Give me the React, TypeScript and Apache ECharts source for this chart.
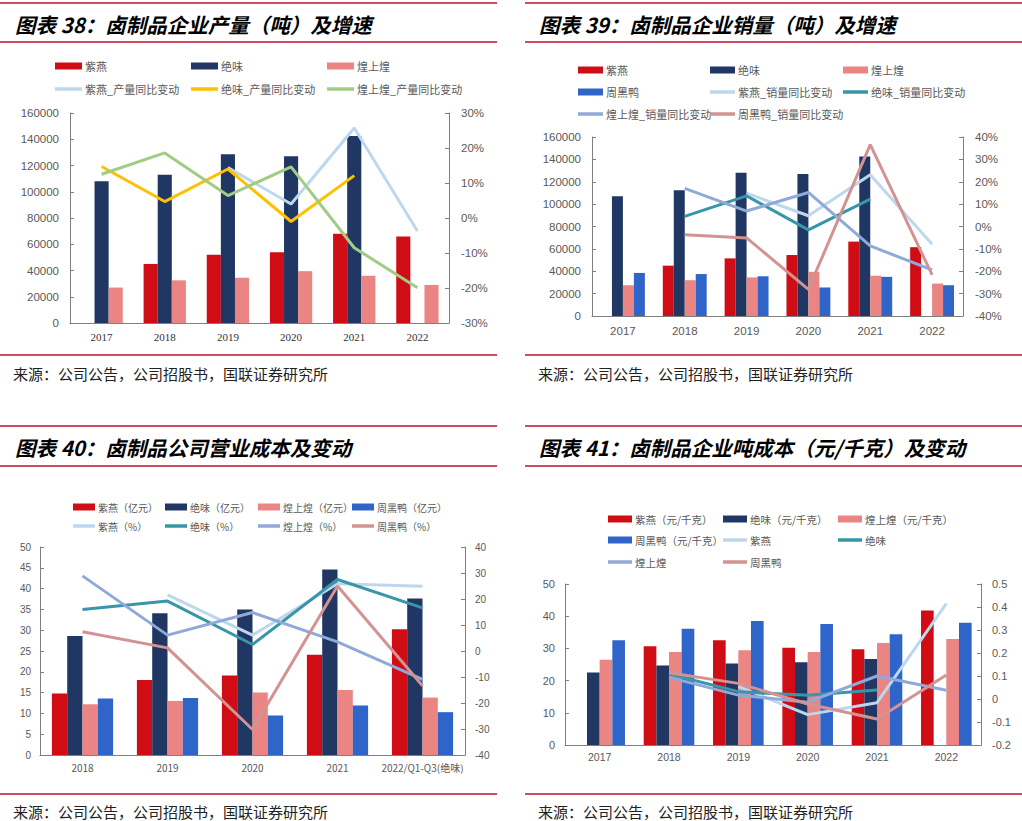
import React, { useEffect, useRef } from "react";
import * as echarts from "echarts";

// ---------- colours ----------
const C_RED = "#D00C14";
const C_NAVY = "#203764";
const C_PINK = "#EA8583";
const C_BLUE = "#2F65C9";
const C_LBLUE = "#BDD7EE";
const C_YELLOW = "#FFC000";
const C_GREEN = "#A0CC84";
const C_TEAL = "#3796A8";
const C_GBLUE = "#8FA9D9";
const C_ROSE = "#D39392";

// ---------- panel 1: 产量 ----------
const p1Years = ["2017", "2018", "2019", "2020", "2021", "2022"];
const p1Zy = [null, 45000, 52000, 54000, 68000, 66000];
const p1Jw = [108000, 113000, 128500, 127000, 142500, null];
const p1Hs = [27000, 32500, 34500, 39500, 36000, 29000];
const p1ZyPct = [null, null, 14.4, 4.0, 25.7, -3.7];
const p1JwPct = [14.7, 4.7, 14.0, -1.0, 12.1, null];
const p1HsPct = [12.5, 18.6, 6.4, 14.6, -8.5, -19.9];

// ---------- panel 2: 销量 ----------
const p2Years = ["2017", "2018", "2019", "2020", "2021", "2022"];
const p2Zy = [null, 45000, 51500, 54500, 66500, 61500];
const p2Jw = [107000, 112500, 128000, 127000, 142500, null];
const p2Hs = [27500, 32000, 34500, 39500, 36000, 29000];
const p2Zh = [38500, 37500, 35500, 25500, 35000, 27500];
const p2ZyPct = [null, null, 14.9, 4.8, 23.1, -7.9];
const p2JwPct = [null, 4.5, 13.7, -1.5, 12.2, null];
const p2HsPct = [null, 17.0, 6.9, 15.2, -8.7, -19.4];
const p2ZhPct = [null, -3.7, -5.1, -28.1, 36.6, -21.6];

// ---------- panel 3: 营业成本 ----------
const p3Years = ["2018", "2019", "2020", "2021", "2022/Q1-Q3(绝味)"];
const p3Zy = [14.8, 18.0, 19.1, 24.1, 30.2];
const p3Jw = [28.6, 34.1, 35.0, 44.6, 37.6];
const p3Hs = [12.2, 13.0, 15.0, 15.6, 13.8];
const p3Zh = [13.6, 13.7, 9.5, 11.9, 10.3];
const p3ZyPct = [null, 21.6, 6.1, 25.9, 24.9];
const p3JwPct = [16.0, 19.2, 2.5, 27.5, 16.6];
const p3HsPct = [28.9, 6.1, 14.8, 3.5, -10.9];
const p3ZhPct = [7.4, 1.2, -30.2, 25.0, -13.4];

// ---------- panel 4: 吨成本 ----------
const p4Years = ["2017", "2018", "2019", "2020", "2021", "2022"];
const p4Zy = [null, 30.7, 32.5, 30.2, 29.7, 41.8];
const p4Jw = [22.5, 24.7, 25.3, 25.7, 26.7, null];
const p4Hs = [26.5, 28.9, 29.4, 28.9, 31.7, 32.9];
const p4Zh = [32.5, 36.1, 38.5, 37.6, 34.4, 38.0];
const p4ZyChg = [null, null, 0.054, -0.068, -0.016, 0.415];
const p4JwChg = [null, 0.109, 0.032, 0.016, 0.039, null];
const p4HsChg = [null, 0.094, 0.017, -0.014, 0.1, 0.038];
const p4ZhChg = [null, 0.114, 0.068, -0.022, -0.087, 0.104];

// ---------- texts ----------
const titles = [
  "图表 38：卤制品企业产量（吨）及增速",
  "图表 39：卤制品企业销量（吨）及增速",
  "图表 40：卤制品公司营业成本及变动",
  "图表 41：卤制品企业吨成本（元/千克）及变动",
];
const sourceText = "来源：公司公告，公司招股书，国联证券研究所";

const SANS = "'Liberation Sans', 'Noto Sans CJK SC', sans-serif";
const CJK = "'Noto Sans CJK SC', 'Liberation Sans', sans-serif";
const LABEL_COLOR = "#595959";
const AXIS_COLOR = "#7F7F7F";

function buildOption() {
  const grids = [
    { left: 70, top: 113, width: 379, height: 210 },
    { left: 592, top: 137, width: 371, height: 179 },
    { left: 40, top: 547, width: 425, height: 208 },
    { left: 565, top: 584, width: 416, height: 161 },
  ];

  const xAxes = [
    { cats: p1Years, fs: 11, ff: "'Liberation Serif', serif", margin: 8, color: "#333" },
    { cats: p2Years, fs: 11.5, ff: SANS, margin: 9, color: LABEL_COLOR },
    { cats: p3Years, fs: 10, ff: CJK, margin: 7, color: LABEL_COLOR },
    { cats: p4Years, fs: 10.5, ff: SANS, margin: 7, color: LABEL_COLOR },
  ].map((a, i) => ({
    type: "category",
    gridIndex: i,
    data: a.cats,
    axisLine: { show: true, lineStyle: { color: AXIS_COLOR, width: 1.2 } },
    axisTick: { show: false },
    axisLabel: { fontSize: a.fs, fontFamily: a.ff, color: a.color, margin: a.margin, interval: 0 },
    splitLine: { show: false },
  }));

  const plain = (v: number) => String(v);
  const valAxis = (grid: number, pos: string, min: number, max: number, interval: number, fs: number, margin: number, formatter: any) => ({
    type: "value",
    gridIndex: grid,
    position: pos,
    min,
    max,
    interval,
    axisLine: { show: true, lineStyle: { color: AXIS_COLOR, width: 1 } },
    axisTick: { show: true, inside: true, length: 4, lineStyle: { color: AXIS_COLOR } },
    splitLine: { show: false },
    axisLabel: { fontSize: fs, fontFamily: SANS, color: LABEL_COLOR, margin, formatter },
  });

  const yAxes = [
    valAxis(0, "left", 0, 160000, 20000, 11.5, 11, plain),
    valAxis(0, "right", -30, 30, 10, 11.5, 12, (v: number) => v + "%"),
    valAxis(1, "left", 0, 160000, 20000, 11.5, 11, plain),
    valAxis(1, "right", -40, 40, 10, 11.5, 12, (v: number) => v + "%"),
    valAxis(2, "left", 0, 50, 5, 10, 9, plain),
    valAxis(2, "right", -40, 40, 10, 10, 10, plain),
    valAxis(3, "left", 0, 50, 10, 11, 10, plain),
    valAxis(3, "right", -0.2, 0.5, 0.1, 11, 11, (v: number) => String(Math.round(v * 10) / 10)),
  ];

  const bar = (p: number, name: string, data: any[], color: string, gap: string) => ({
    type: "bar",
    name: `p${p}|${name}`,
    xAxisIndex: p - 1,
    yAxisIndex: (p - 1) * 2,
    data,
    barGap: "0%",
    barCategoryGap: gap,
    itemStyle: { color },
    z: 2,
  });
  const line = (p: number, name: string, data: any[], color: string) => ({
    type: "line",
    name: `p${p}|${name}`,
    xAxisIndex: p - 1,
    yAxisIndex: (p - 1) * 2 + 1,
    data,
    symbol: "none",
    connectNulls: false,
    lineStyle: { color, width: 3 },
    itemStyle: { color },
    z: 3,
  });

  const series = [
    bar(1, "紫燕", p1Zy, C_RED, "33%"),
    bar(1, "绝味", p1Jw, C_NAVY, "33%"),
    bar(1, "煌上煌", p1Hs, C_PINK, "33%"),
    line(1, "紫燕_产量同比变动", p1ZyPct, C_LBLUE),
    line(1, "绝味_产量同比变动", p1JwPct, C_YELLOW),
    line(1, "煌上煌_产量同比变动", p1HsPct, C_GREEN),

    bar(2, "紫燕", p2Zy, C_RED, "29%"),
    bar(2, "绝味", p2Jw, C_NAVY, "29%"),
    bar(2, "煌上煌", p2Hs, C_PINK, "29%"),
    bar(2, "周黑鸭", p2Zh, C_BLUE, "29%"),
    line(2, "紫燕_销量同比变动", p2ZyPct, C_LBLUE),
    line(2, "绝味_销量同比变动", p2JwPct, C_TEAL),
    line(2, "煌上煌_销量同比变动", p2HsPct, C_GBLUE),
    line(2, "周黑鸭_销量同比变动", p2ZhPct, C_ROSE),

    bar(3, "紫燕（亿元）", p3Zy, C_RED, "28%"),
    bar(3, "绝味（亿元）", p3Jw, C_NAVY, "28%"),
    bar(3, "煌上煌（亿元）", p3Hs, C_PINK, "28%"),
    bar(3, "周黑鸭（亿元）", p3Zh, C_BLUE, "28%"),
    line(3, "紫燕（%）", p3ZyPct, C_LBLUE),
    line(3, "绝味（%）", p3JwPct, C_TEAL),
    line(3, "煌上煌（%）", p3HsPct, C_GBLUE),
    line(3, "周黑鸭（%）", p3ZhPct, C_ROSE),

    bar(4, "紫燕（元/千克）", p4Zy, C_RED, "27%"),
    bar(4, "绝味（元/千克）", p4Jw, C_NAVY, "27%"),
    bar(4, "煌上煌（元/千克）", p4Hs, C_PINK, "27%"),
    bar(4, "周黑鸭（元/千克）", p4Zh, C_BLUE, "27%"),
    line(4, "紫燕", p4ZyChg, C_LBLUE),
    line(4, "绝味", p4JwChg, C_TEAL),
    line(4, "煌上煌", p4HsChg, C_GBLUE),
    line(4, "周黑鸭", p4ZhChg, C_ROSE),
  ];

  // legend layout: [panel, name, isLine, x, yCenter, iconWidth, fontSize]
  const legendItems: [number, string, boolean, number, number, number, number][] = [
    [1, "紫燕", false, 55, 66, 27, 11],
    [1, "绝味", false, 191, 66, 27, 11],
    [1, "煌上煌", false, 327, 66, 27, 11],
    [1, "紫燕_产量同比变动", true, 55, 89, 27, 11],
    [1, "绝味_产量同比变动", true, 191, 89, 27, 11],
    [1, "煌上煌_产量同比变动", true, 327, 89, 27, 11],

    [2, "紫燕", false, 578, 70, 25, 11],
    [2, "绝味", false, 710, 70, 25, 11],
    [2, "煌上煌", false, 843, 70, 25, 11],
    [2, "周黑鸭", false, 578, 92, 25, 11],
    [2, "紫燕_销量同比变动", true, 710, 92, 25, 11],
    [2, "绝味_销量同比变动", true, 843, 92, 25, 11],
    [2, "煌上煌_销量同比变动", true, 578, 114, 25, 11],
    [2, "周黑鸭_销量同比变动", true, 710, 114, 25, 11],

    [3, "紫燕（亿元）", false, 73, 507, 22, 10],
    [3, "绝味（亿元）", false, 165, 507, 22, 10],
    [3, "煌上煌（亿元）", false, 258, 507, 22, 10],
    [3, "周黑鸭（亿元）", false, 352, 507, 22, 10],
    [3, "紫燕（%）", true, 73, 526, 22, 10],
    [3, "绝味（%）", true, 165, 526, 22, 10],
    [3, "煌上煌（%）", true, 258, 526, 22, 10],
    [3, "周黑鸭（%）", true, 352, 526, 22, 10],

    [4, "紫燕（元/千克）", false, 608, 519, 24, 10.5],
    [4, "绝味（元/千克）", false, 723, 519, 24, 10.5],
    [4, "煌上煌（元/千克）", false, 838, 519, 24, 10.5],
    [4, "周黑鸭（元/千克）", false, 608, 540, 24, 10.5],
    [4, "紫燕", true, 723, 540, 24, 10.5],
    [4, "绝味", true, 838, 540, 24, 10.5],
    [4, "煌上煌", true, 608, 562, 24, 10.5],
    [4, "周黑鸭", true, 723, 562, 24, 10.5],
  ];

  const legends = legendItems.map(([p, name, isLine, x, y, w, fs]) => ({
    show: true,
    orient: "horizontal",
    left: x,
    top: y - 8,
    padding: 0,
    itemGap: 0,
    itemWidth: w,
    itemHeight: isLine ? 3.5 : 7,
    selectedMode: false,
    data: [{ name: `p${p}|${name}`, icon: "rect" }],
    formatter: (n: string) => n.split("|")[1],
    textStyle: { fontSize: fs, fontFamily: CJK, color: LABEL_COLOR, lineHeight: 16, padding: [0, 0, 0, -2] },
  }));

  // decorations: rule lines, titles, sources
  const RULE = "#C0102E";
  const panels = [
    { x0: 0, x1: 497, yTop: 3, yTitleLine: 42, yBottom: 355, titleX: 15, titleY: 24, srcX: 13, srcY: 373 },
    { x0: 525, x1: 1022, yTop: 3, yTitleLine: 42, yBottom: 355, titleX: 539, titleY: 24, srcX: 538, srcY: 373 },
    { x0: 0, x1: 497, yTop: 426, yTitleLine: 466, yBottom: 794, titleX: 15, titleY: 447, srcX: 13, srcY: 811 },
    { x0: 525, x1: 1022, yTop: 426, yTitleLine: 466, yBottom: 794, titleX: 539, titleY: 447, srcX: 538, srcY: 811 },
  ];
  const graphics: any[] = [];
  panels.forEach((pn, i) => {
    [pn.yTop, pn.yTitleLine, pn.yBottom].forEach((yy) => {
      graphics.push({
        type: "line",
        shape: { x1: pn.x0, y1: yy, x2: pn.x1, y2: yy },
        style: { stroke: RULE, lineWidth: 1.5 },
        silent: true,
      });
    });
    graphics.push({
      type: "text",
      x: pn.titleX,
      y: pn.titleY,
      style: {
        text: titles[i],
        fill: "#000",
        font: `italic bold 20.5px 'Noto Sans CJK SC', sans-serif`,
        verticalAlign: "middle",
        align: "left",
      },
      silent: true,
    });
    graphics.push({
      type: "text",
      x: pn.srcX,
      y: pn.srcY,
      style: {
        text: sourceText,
        fill: "#222",
        font: `15px 'Noto Sans CJK SC', sans-serif`,
        verticalAlign: "middle",
        align: "left",
      },
      silent: true,
    });
  });

  return {
    animation: false,
    backgroundColor: "#ffffff",
    grid: grids,
    xAxis: xAxes,
    yAxis: yAxes,
    legend: legends,
    series,
    graphic: graphics,
  };
}

export default function App() {
  const ref = useRef<HTMLDivElement>(null);
  useEffect(() => {
    if (!ref.current) return;
    const chart = echarts.init(ref.current, null, { renderer: "svg" });
    chart.setOption(buildOption() as any);
    return () => chart.dispose();
  }, []);
  return (
    <div
      ref={ref}
      style={{ position: "absolute", left: 0, top: 0, width: 1022, height: 821, background: "#fff" }}
    />
  );
}
